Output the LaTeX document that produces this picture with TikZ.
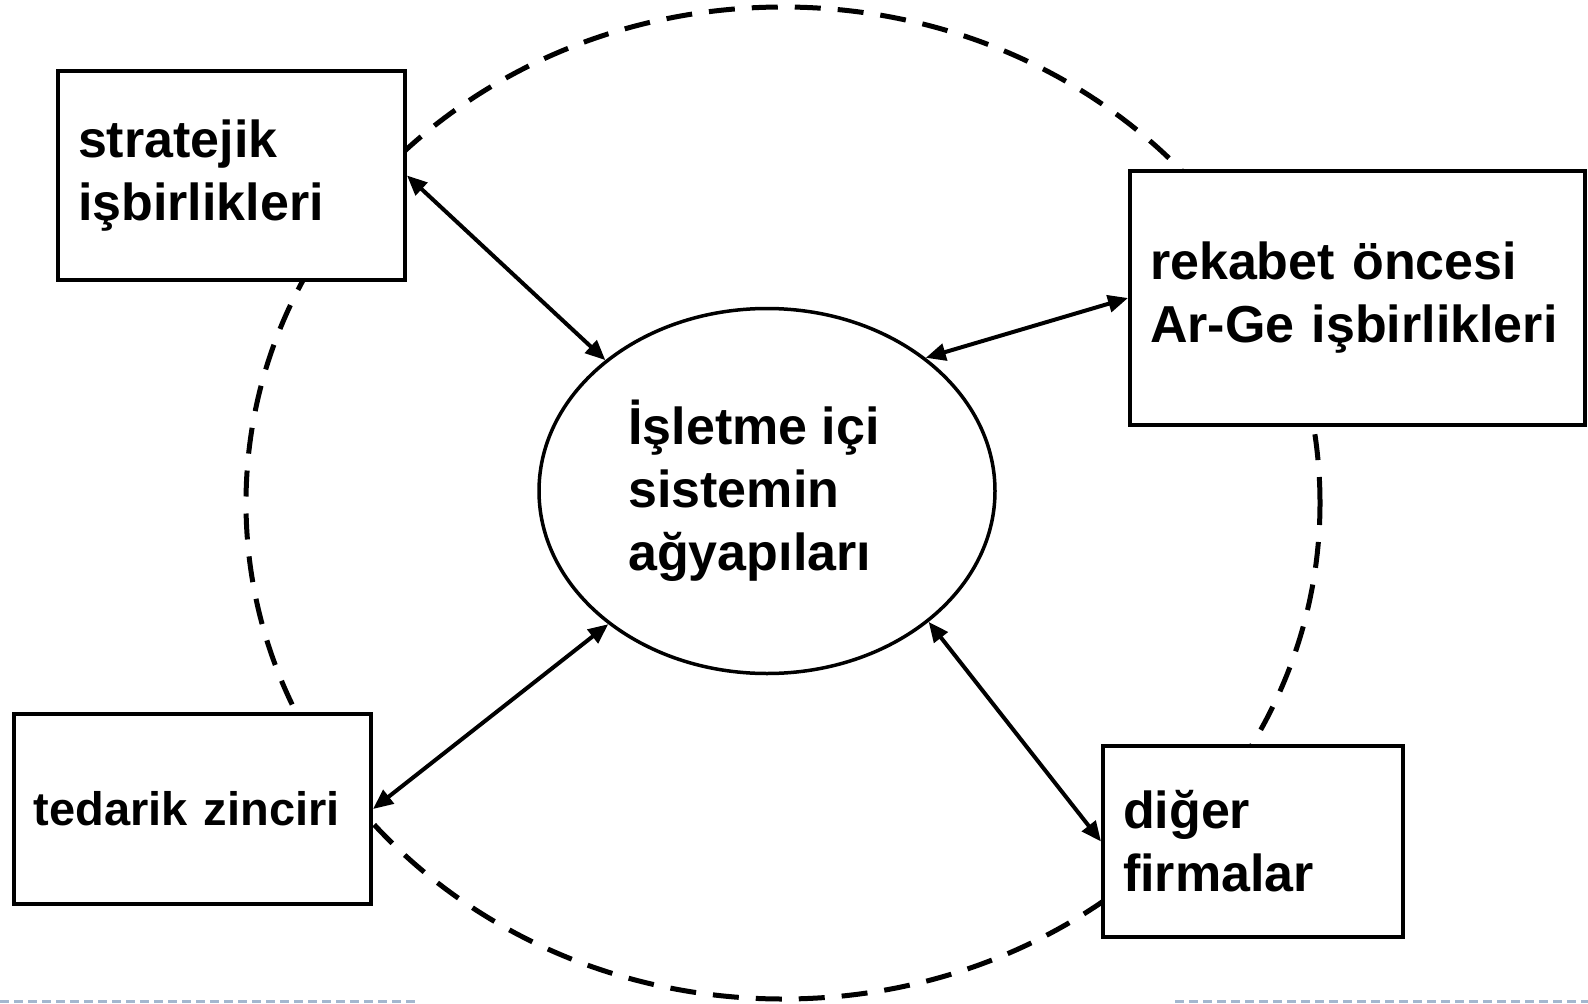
\documentclass[tikz,border=0pt]{standalone}
\usepackage{fontspec}
\setmainfont{Liberation Sans}
\usetikzlibrary{shapes.geometric,arrows.meta}
\definecolor{slideline}{RGB}{164,183,207}
\tikzset{
  box/.style={rectangle,draw=black,line width=4pt,fill=white,anchor=north west,
    align=left,inner xsep=20pt,font=\bfseries\fontsize{52}{63}\selectfont},
  link/.style={line width=4pt,{Triangle[length=20pt,width=17pt]}-{Triangle[length=20pt,width=17pt]}},
}
\begin{document}
\begin{tikzpicture}[x=1pt,y=-1pt]
    \useasboundingbox (0,0) rectangle (1588,1004);
    % dashed ring behind the boxes
    \draw[line width=5pt,dash pattern=on 26pt off 17pt] (783,503) ellipse [x radius=537pt,y radius=496pt];
    \draw[slideline,line width=3pt,dash pattern=on 9pt off 5pt] (0,1001) -- (415,1001);
    \draw[slideline,line width=3pt,dash pattern=on 9pt off 5pt] (1175,1001) -- (1588,1001);
    % nodes
    \node (strat) at (56,69) [box,text width=307pt,minimum height=209pt] {stratejik\\işbirlikleri};
    \node (rek) at (1128,169) [box,text width=415pt,minimum height=254pt] {rekabet öncesi\\Ar-Ge işbirlikleri};
    \node (ted) at (12,712) [box,text width=317pt,minimum height=190pt,font=\bfseries\fontsize{47}{63}\selectfont] {\mbox{tedarik zinciri}};
    \node (dig) at (1101,744) [box,text width=260pt,minimum height=191pt] {diğer\\firmalar};
    \node (ell) at (767,491) [ellipse,draw=black,line width=3.5pt,fill=white,minimum width=456pt,minimum height=365pt,
      align=left,font=\bfseries\fontsize{52}{63}\selectfont] {İşletme içi\hspace*{26pt}\\sistemin\\ağyapıları};
    % links
    \draw[link] (strat.east) -- (ell.141);
    \draw[link] (rek.west) -- (ell.40);
    \draw[link] (ted.east) -- (ell.220);
    \draw[link] (dig.west) -- (ell.321);
\end{tikzpicture}
\end{document}
